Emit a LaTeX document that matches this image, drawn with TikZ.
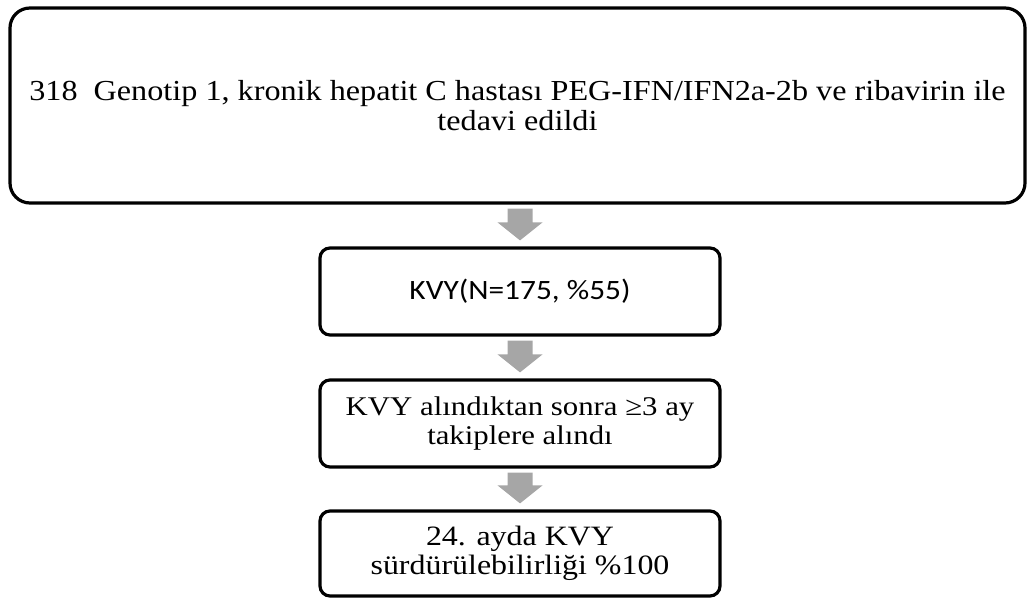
\documentclass[tikz,border=0pt]{standalone}
\usepackage{fontspec}
\setmainfont{Liberation Serif}
\newfontfamily\wideserif[FakeStretch=1.11]{Liberation Serif}
\newfontfamily\wideserifb[FakeStretch=1.14]{Liberation Serif}
\newfontfamily\calibfont[FakeStretch=1.12]{Carlito}
\usetikzlibrary{calc}
\definecolor{arrgray}{RGB}{166,166,166}
\newcommand{\blockarrow}[2]{%
  \fill[arrgray]
    let \p1=($(#1.south)$), \p2=($(#2.north)$) in
    (\x2-12.5pt,\y1-4pt) -- (\x2+12.5pt,\y1-4pt) -- (\x2+12.5pt,\y2+24pt) --
    (\x2+22.5pt,\y2+24pt) -- (\x2,\y2+6pt) -- (\x2-22.5pt,\y2+24pt) --
    (\x2-12.5pt,\y2+24pt) -- cycle;}
\begin{document}
\begin{tikzpicture}[x=1pt,y=-1pt,
  box/.style={draw=black, line width=3.2pt, rounded corners=#1, inner sep=0pt, align=center, fill=white},
  box/.default=10pt]
\useasboundingbox (0,0) rectangle (1028,601);
\node[box=20pt, minimum width=1015pt, minimum height=195pt,
      font=\wideserif\fontsize{29}{30}\selectfont] (top) at (517.5,105.5)
  {318~ Genotip 1, kronik hepatit C hastası PEG-IFN/IFN2a-2b ve ribavirin ile\\tedavi edildi};
\node[box, minimum width=400pt, minimum height=87pt,
      font=\calibfont\fontsize{28}{30}\selectfont] (kvy) at (520,291.5)
  {KVY(N=175, \%55)};
\node[box, minimum width=400pt, minimum height=87pt,
      font=\wideserifb\fontsize{27}{29}\selectfont] (takip) at (520,423.5)
  {KVY alındıktan sonra ≥3 ay\\takiplere alındı};
\node[box, minimum width=400pt, minimum height=85pt,
      font=\wideserifb\fontsize{28}{29}\selectfont] (sur) at (520,553.5)
  {24. ayda KVY\\sürdürülebilirliği \%100};
\blockarrow{top}{kvy}
\blockarrow{kvy}{takip}
\blockarrow{takip}{sur}
\end{tikzpicture}
\end{document}
